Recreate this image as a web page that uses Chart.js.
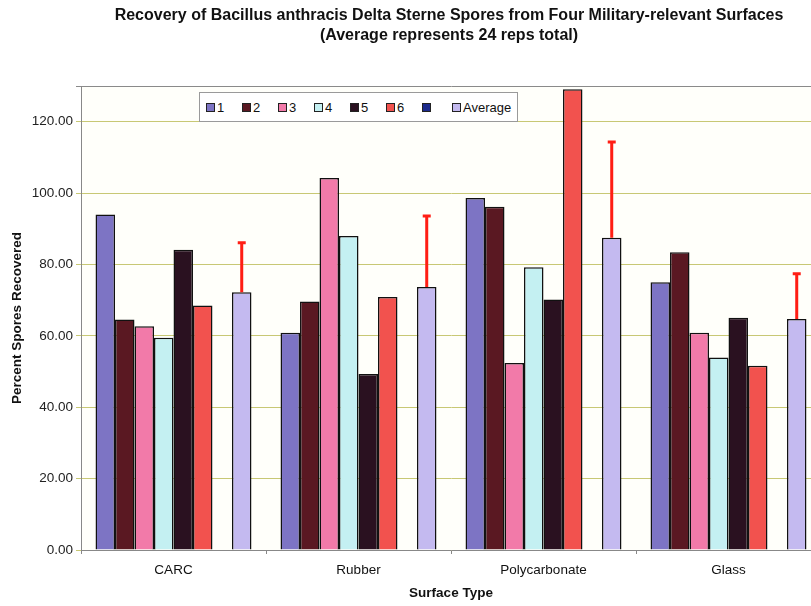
<!DOCTYPE html>
<html>
<head>
<meta charset="utf-8">
<script src="https://cdn.jsdelivr.net/npm/chart.js@4/dist/chart.umd.min.js"></script>
<style>
  body { margin: 0; background: #fff; overflow: hidden; }
  #wrap { position: relative; width: 900px; height: 606px; }
  #legend {
    position: absolute; left: 199px; top: 92px; width: 319px; height: 30px;
    background: #fff; border: 1px solid #9a9a9a; box-sizing: border-box;
    font: 13px "Liberation Sans", Arial, sans-serif; color: #111;
    display: flex; align-items: center; padding-left: 6px;
  }
  #legend span.item { display: inline-flex; align-items: center; width: 36px; flex-shrink: 0; }
  #legend span.item:last-child { width: auto; margin-left: -6px; }
  #legend span.box { width: 7px; height: 7px; border: 1px solid #222; margin-right: 2px; display: inline-block; flex-shrink: 0; }
</style>
</head>
<body>
<div id="wrap">
  <canvas id="chart" width="900" height="606"></canvas>
  <div id="legend"></div>
</div>
<script>
const surfaces = ['CARC', 'Rubber', 'Polycarbonate', 'Glass'];
const rep1 = [94.0, 60.9, 98.6, 75.0];
const rep2 = [64.6, 69.6, 96.2, 83.4];
const rep3 = [62.7, 104.2, 52.4, 60.9];
const rep4 = [59.5, 88.0, 79.2, 53.9];
const rep5 = [84.1, 49.3, 70.2, 65.1];
const rep6 = [68.5, 70.9, 129.1, 51.6];
const blank = [null, null, null, null];
const average = [72.2, 73.7, 87.5, 64.7];
const averageErrTop = [86.1, 93.6, 114.3, 77.4];

const seriesNames = ['1', '2', '3', '4', '5', '6', '', 'Average'];
const seriesData = [rep1, rep2, rep3, rep4, rep5, rep6, blank, average];
const seriesColors = ['#7d74c4', '#5a1822', '#f27aa9', '#c4f0f2', '#2a1120', '#f2524e', '#1c2a8c', '#c4baf0'];

// error bars on the Average series (plus direction only)
const errorBars = {
  id: 'errorBars',
  afterDatasetsDraw(chart) {
    const meta = chart.getDatasetMeta(7);
    const y = chart.scales.y;
    const ctx = chart.ctx;
    ctx.save();
    ctx.strokeStyle = '#ff1e14';
    ctx.lineWidth = 3;
    meta.data.forEach((bar, i) => {
      const yTop = y.getPixelForValue(averageErrTop[i]);
      ctx.beginPath();
      ctx.moveTo(bar.x, bar.y);
      ctx.lineTo(bar.x, yTop);
      ctx.moveTo(bar.x - 4, yTop);
      ctx.lineTo(bar.x + 4, yTop);
      ctx.stroke();
    });
    ctx.restore();
  }
};

const plotBg = {
  id: 'plotBg',
  beforeDraw(chart) {
    const a = chart.chartArea;
    chart.ctx.save();
    chart.ctx.fillStyle = '#fffffa';
    chart.ctx.fillRect(a.left, a.top, a.right - a.left, a.bottom - a.top);
    chart.ctx.restore();
  }
};

const font = "'Liberation Sans', Arial, sans-serif";

new Chart(document.getElementById('chart'), {
  type: 'bar',
  data: {
    labels: surfaces,
    datasets: seriesData.map((d, i) => ({
      label: seriesNames[i],
      data: d,
      backgroundColor: seriesColors[i],
      borderColor: '#111',
      borderWidth: 1.5,
      categoryPercentage: 0.843,
      barPercentage: 1
    }))
  },
  options: {
    responsive: false,
    animation: false,
    layout: { padding: { left: 0, right: 2, bottom: 4 } },
    plugins: {
      legend: { display: false },
      tooltip: { enabled: false },
      title: {
        display: true,
        text: ['Recovery of Bacillus anthracis Delta Sterne Spores from Four Military-relevant Surfaces',
               '(Average represents 24 reps total)'],
        font: { family: font, size: 16, weight: 'bold', lineHeight: 1.25 },
        color: '#111',
        padding: { top: 6, bottom: 40 }
      }
    },
    scales: {
      x: {
        afterFit: s => { s.height = 52; },
        grid: { display: true, offset: true, drawOnChartArea: false, tickLength: 4, color: '#888' },
        border: { color: '#888', width: 1 },
        ticks: { color: '#111', font: { family: font, size: 13.5 }, padding: 8 },
        title: { display: true, text: 'Surface Type', color: '#111', font: { family: font, size: 13.5, weight: 'bold' }, padding: { top: 0, bottom: 1 } }
      },
      y: {
        min: 0,
        max: 130,
        afterFit: s => { s.width = 81; },
        ticks: {
          stepSize: 20,
          color: '#222',
          font: { family: font, size: 13.5 },
          padding: 3,
          callback: v => v > 120 ? '' : v.toFixed(2)
        },
        grid: {
          color: c => c.tick && c.tick.value > 120 ? '#8a8a8a' : '#c8c874',
          tickLength: 5
        },
        border: { color: '#888', width: 1 },
        title: { display: true, text: 'Percent Spores Recovered', color: '#111', font: { family: font, size: 13.5, weight: 'bold' }, padding: { top: 9, bottom: 0 } }
      },
      // empty space on the right (plot runs past the visible window)
      yRight: {
        position: 'right',
        min: 0,
        max: 130,
        afterFit: s => { s.width = 77; },
        grid: { display: false },
        ticks: { display: false },
        border: { display: false }
      }
    }
  },
  plugins: [plotBg, errorBars]
});

// legend box inside the plot, built from the datasets
const legendEl = document.getElementById('legend');
seriesNames.forEach((name, i) => {
  const item = document.createElement('span');
  item.className = 'item';
  const box = document.createElement('span');
  box.className = 'box';
  box.style.background = seriesColors[i];
  item.appendChild(box);
  item.appendChild(document.createTextNode(name));
  legendEl.appendChild(item);
});
</script>
</body>
</html>
